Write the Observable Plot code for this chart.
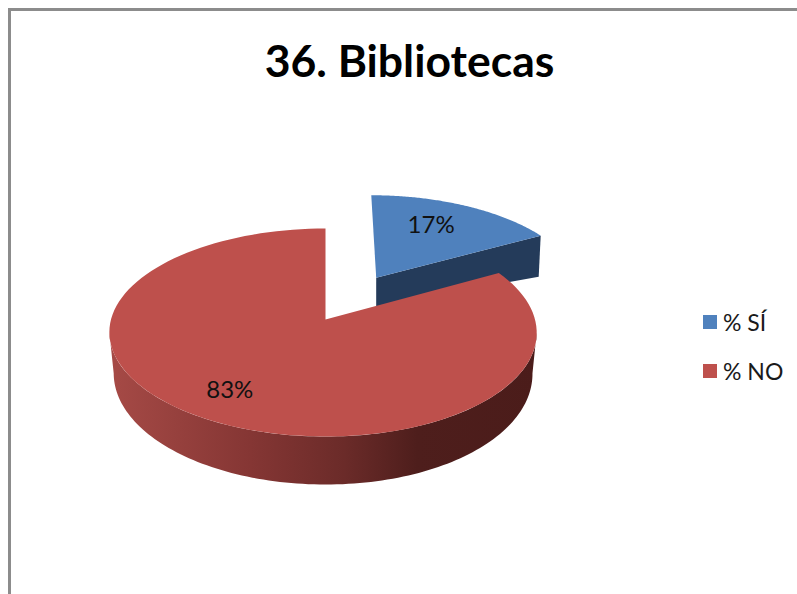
<!DOCTYPE html>
<html><head><meta charset="utf-8">
<script src="https://cdn.jsdelivr.net/npm/d3@7"></script>
<script src="https://cdn.jsdelivr.net/npm/@observablehq/plot@0.6"></script>
<style>
html,body{margin:0;padding:0;background:#fff;overflow:hidden}
#page{position:relative;width:797px;height:594px;overflow:hidden;font-family:Lato,"Open Sans",sans-serif}
#frame{position:absolute;left:8px;top:8px;right:-4px;bottom:-4px;border-left:3px solid #8c8c8c;border-top:3px solid #8c8c8c}
#title{position:absolute;left:0;width:819px;top:33px;text-align:center;font-weight:700;font-size:44.5px;line-height:54px;color:#000}
#legend{position:absolute;left:703px;top:298px;font-size:23px;color:#1a1a1a}
.row{display:flex;align-items:center;height:48.5px}
.sw{width:14px;height:14px;margin-right:6px;flex:none}
#chart{position:absolute;left:0;top:0}
</style></head><body>
<div id="page"><div id="frame"></div><div id="chart"></div><div id="title"></div><div id="legend"></div></div>
<script>
const titleText = "36. Bibliotecas";
const categories = ["% SÍ", "% NO"];
const values = [17, 83];
const colors = ["#4F81BD", "#BE504C"];
const blueSide = "#243B5A";
const gradientOffsets = [0, 0.33, 0.55, 0.72, 1];
const gradientColors = ["#A64A46", "#853634", "#6B2B29", "#4E1E1C", "#4B1C1A"];

// Projection of the tilted pie (perspective disc → page pixels)
const cx = 325, cy = 319, A = 212, K = 102.4, C = 0.125, EXPLODE = 0.5;
const px = (u, v, skew = 2.5) => cx + A * u / (1 + C * v) - skew * u * u;
const py = (u, v) => cy - K * v / (1 + C * v);
const rad = d => d * Math.PI / 180;

const total = d3.sum(values);
const slices = [];
let acc = 0;
categories.forEach((c, i) => {
  const a0 = acc / total * 360; acc += values[i];
  const a1 = acc / total * 360;
  slices.push({c, a0, a1, mid: (a0 + a1) / 2});
});
const [si, no] = slices;
const ex = EXPLODE * Math.sin(rad(si.mid)), ey = EXPLODE * Math.cos(rad(si.mid));
const rim = (a, ox = 0, oy = 0) => {
  const u = Math.sin(rad(a)) + ox, v = Math.cos(rad(a)) + oy;
  return {x: px(u, v, ox ? 0 : 2.5), y: py(u, v), u, v};
};
const arc = (a0, a1, ox, oy) => d3.range(0, 121).map(i => rim(a0 + (a1 - a0) * i / 120, ox, oy));

// top faces
const apex = {x: px(ex, ey, 0) - 0.5, y: py(ex, ey)};
const siFace = [apex, ...arc(si.a0, si.a1, ex, ey)];
const noFace = [{x: px(0, 0), y: py(0, 0)}, ...arc(no.a0, no.a1, 0, 0)];

// red outer wall
const lower = p => ({x: cx + (p.x - cx) * 0.98, y: p.y + 40 - 8 * p.v});
const wallTop = arc(97, 263, 0, 0);
const noWall = [...wallTop, ...wallTop.slice().reverse().map(lower)];

// blue cut wall
const tip = rim(si.a1, ex, ey);
const siWall = [apex, tip, {x: tip.x - 2, y: tip.y + 41}, {x: apex.x, y: apex.y + 29}];

const labels = [
  {t: values[0] + "%", ...(() => { const u = ex + 0.71 * Math.sin(rad(si.mid)), v = ey + 0.71 * Math.cos(rad(si.mid)); return {x: px(u, v) - 9, y: py(u, v)}; })()},
  {t: values[1] + "%", ...(() => { const u = 0.76 * Math.sin(rad(no.mid)), v = 0.76 * Math.cos(rad(no.mid)); return {x: px(u, v) - 6, y: py(u, v) - 2}; })()}
];

const defs = () => {
  const d = d3.create("svg:defs");
  const g = d.append("linearGradient").attr("id", "wallGrad").attr("x1", 0).attr("x2", 1).attr("y1", 0).attr("y2", 0);
  gradientOffsets.forEach((o, i) => g.append("stop").attr("offset", o).attr("stop-color", gradientColors[i]));
  return d.node();
};

const poly = (pts, fill) => Plot.line(pts, {x: "x", y: "y", fill, stroke: "none", curve: "linear-closed"});

const plot = Plot.plot({
  width: 797, height: 594,
  margin: 0,
  x: {domain: [0, 797], range: [0, 797], axis: null},
  y: {domain: [0, 594], range: [0, 594], axis: null},
  style: {background: "transparent", overflow: "visible"},
  marks: [
    defs,
    poly(siWall, blueSide),
    poly(siFace, colors[0]),
    poly(noWall, "url(#wallGrad)"),
    poly(noFace, colors[1]),
    Plot.text(labels, {x: "x", y: "y", text: "t", fontSize: 24, fontFamily: "Lato", fill: "#111"})
  ]
});
document.getElementById("chart").append(plot);
document.getElementById("title").textContent = titleText;
const lg = d3.select("#legend");
categories.forEach((c, i) => {
  const r = lg.append("div").attr("class", "row");
  r.append("div").attr("class", "sw").style("background", colors[i]);
  r.append("span").text(c);
});
</script></body></html>
